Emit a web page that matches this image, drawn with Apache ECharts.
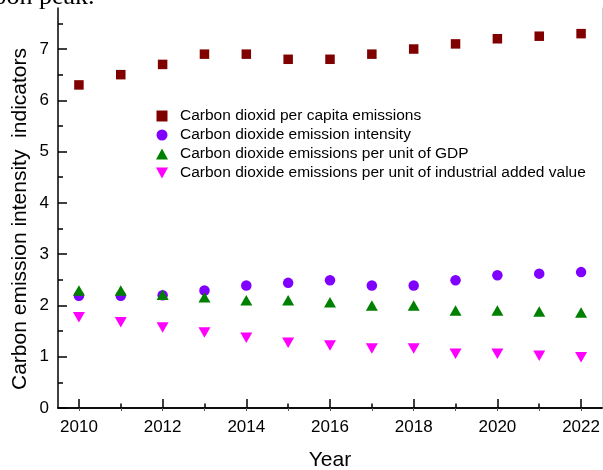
<!DOCTYPE html>
<html>
<head>
<meta charset="utf-8">
<script src="https://cdn.jsdelivr.net/npm/echarts@6/dist/echarts.min.js"></script>
<style>
  html, body { margin: 0; padding: 0; background: #fff; }
  #chart { width: 603px; height: 470px; }
</style>
</head>
<body>
<div id="chart"></div>
<script>
// Years on the horizontal axis
const years = [2010, 2011, 2012, 2013, 2014, 2015, 2016, 2017, 2018, 2019, 2020, 2021, 2022];

// Indicator values per year
const perCapita    = [6.3, 6.5, 6.7, 6.9, 6.9, 6.8, 6.8, 6.9, 7.0, 7.1, 7.2, 7.25, 7.3];
const intensity    = [2.19, 2.19, 2.2, 2.29, 2.39, 2.44, 2.49, 2.39, 2.39, 2.49, 2.59, 2.62, 2.65];
const perGdp       = [2.29, 2.29, 2.21, 2.16, 2.1, 2.1, 2.06, 2.0, 2.0, 1.9, 1.9, 1.88, 1.86];
const perIndustry  = [1.77, 1.67, 1.57, 1.47, 1.37, 1.27, 1.22, 1.16, 1.16, 1.06, 1.06, 1.02, 0.99];

// Series names
const seriesNames = [
  'Carbon dioxid per capita emissions',
  'Carbon dioxide emission intensity',
  'Carbon dioxide emissions per unit of GDP',
  'Carbon dioxide emissions per unit of industrial added value'
];

// Tick positions
const xMajorTicks = [2010, 2012, 2014, 2016, 2018, 2020, 2022];
const xMinorTicks = [2011, 2013, 2015, 2017, 2019, 2021];
const yMajorTicks = [0, 1, 2, 3, 4, 5, 6, 7];
const yMinorTicks = [0.5, 1.5, 2.5, 3.5, 4.5, 5.5, 6.5, 7.5];

const xMin = 2009.5, xMax = 2022.5;
const yMin = 0, yMax = 7.8;

const FONT = 'Arial, "Liberation Sans", sans-serif';

function pairs(vals) {
  return years.map((y, i) => [y, vals[i]]);
}

const chart = echarts.init(document.getElementById('chart'), null, { renderer: 'canvas' });

const gridRect = { left: 58, top: 8, right: 1, bottom: 62, containLabel: false, outerBoundsMode: 'none' };

const option = {
  backgroundColor: '#ffffff',
  animation: false,
  textStyle: { fontFamily: FONT },
  grid: [
    Object.assign({}, gridRect),
    Object.assign({}, gridRect)
  ],
  legend: {
    orient: 'vertical',
    left: 151,
    top: 103,
    itemWidth: 12,
    itemHeight: 11,
    itemGap: 3.0,
    textStyle: { fontSize: 15.5, color: '#000', fontFamily: FONT, padding: [0, 0, 0, 7] },
    data: [
      { name: seriesNames[0], icon: 'path://M1,1 L11,1 L11,11 L1,11 Z' },
      { name: seriesNames[1], icon: 'circle' },
      { name: seriesNames[2], icon: 'path://M6,0 L12,11 L0,11 Z' },
      { name: seriesNames[3], icon: 'path://M0,0 L12,0 L6,11 Z' }
    ]
  },
  xAxis: [
    {
      gridIndex: 0, type: 'value', position: 'bottom', min: xMin, max: xMax,
      name: 'Year', nameLocation: 'middle', nameGap: 42,
      nameTextStyle: { fontSize: 21, color: '#000', fontFamily: FONT },
      axisLine: { show: true, lineStyle: { color: '#000', width: 1.5 } },
      axisTick: { show: true, inside: true, length: 9, customValues: xMajorTicks, lineStyle: { color: '#000', width: 1.5 } },
      axisLabel: { show: true, customValues: xMajorTicks, fontSize: 17, color: '#000', margin: 11, fontFamily: FONT, formatter: v => String(v) },
      splitLine: { show: false }
    },
    {
      gridIndex: 0, type: 'value', position: 'top', min: xMin, max: xMax,
      axisLine: { show: true, lineStyle: { color: '#000', width: 1.5 } },
      axisTick: { show: true, inside: true, length: 3, customValues: years, lineStyle: { color: '#555', width: 1 } },
      axisLabel: { show: false },
      splitLine: { show: false }
    },
    {
      gridIndex: 1, type: 'value', position: 'bottom', min: xMin, max: xMax,
      axisLine: { show: false },
      axisTick: { show: true, inside: true, length: 4.5, customValues: xMinorTicks, lineStyle: { color: '#000', width: 1.5 } },
      axisLabel: { show: false },
      splitLine: { show: false }
    }
  ],
  yAxis: [
    {
      gridIndex: 0, type: 'value', position: 'left', min: yMin, max: yMax,
      axisLine: { show: true, lineStyle: { color: '#000', width: 1.5 } },
      axisTick: { show: true, inside: true, length: 9, customValues: yMajorTicks, lineStyle: { color: '#000', width: 1.5 } },
      axisLabel: { show: true, customValues: yMajorTicks, fontSize: 17, color: '#000', margin: 9, fontFamily: FONT },
      splitLine: { show: false }
    },
    {
      gridIndex: 0, type: 'value', position: 'right', min: yMin, max: yMax,
      axisLine: { show: true, lineStyle: { color: '#cfcfcf', width: 1 } },
      axisTick: { show: false },
      axisLabel: { show: false },
      splitLine: { show: false }
    },
    {
      gridIndex: 1, type: 'value', position: 'left', min: yMin, max: yMax,
      axisLine: { show: false },
      axisTick: { show: true, inside: true, length: 5, customValues: yMinorTicks, lineStyle: { color: '#000', width: 1.5 } },
      axisLabel: { show: false },
      splitLine: { show: false }
    }
  ],
  graphic: [
    {
      type: 'text',
      x: 20, y: 219,
      rotation: Math.PI / 2,
      style: {
        text: 'Carbon emission intensity  indicators',
        fontSize: 21, fontFamily: FONT, fill: '#000',
        align: 'center', verticalAlign: 'middle'
      }
    },
    {
      type: 'text',
      x: 94.5, y: -2.5,
      style: {
        text: 'carbon peak.',
        fontSize: 26, fontFamily: '"Liberation Serif", "Times New Roman", serif', fill: '#000',
        align: 'right', verticalAlign: 'middle'
      }
    }
  ],
  series: [
    {
      name: seriesNames[0], type: 'scatter', xAxisIndex: 0, yAxisIndex: 0,
      symbol: 'rect', symbolSize: 9.5,
      itemStyle: { color: '#800000', opacity: 1 },
      data: pairs(perCapita)
    },
    {
      name: seriesNames[1], type: 'scatter', xAxisIndex: 0, yAxisIndex: 0,
      symbol: 'circle', symbolSize: 10.5,
      itemStyle: { color: '#8000ff', opacity: 1 },
      data: pairs(intensity)
    },
    {
      name: seriesNames[2], type: 'scatter', xAxisIndex: 0, yAxisIndex: 0,
      symbol: 'triangle', symbolSize: [12, 10.5],
      itemStyle: { color: '#008000', opacity: 1 },
      data: pairs(perGdp)
    },
    {
      name: seriesNames[3], type: 'scatter', xAxisIndex: 0, yAxisIndex: 0,
      symbol: 'triangle', symbolSize: [12, 10.5], symbolRotate: 180,
      itemStyle: { color: '#ff00ff', opacity: 1 },
      data: pairs(perIndustry)
    }
  ]
};

chart.setOption(option);
</script>
</body>
</html>
